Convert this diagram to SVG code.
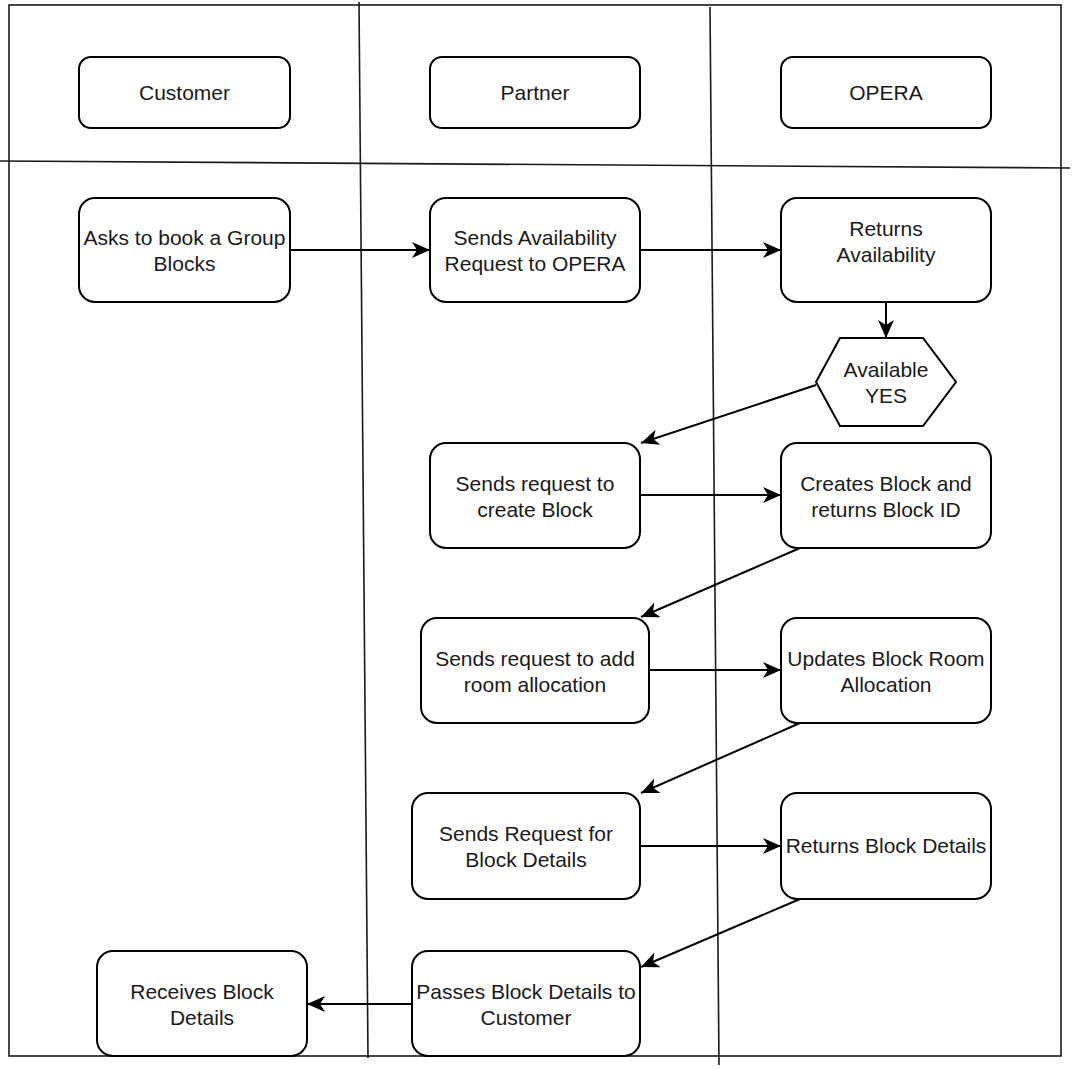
<svg xmlns="http://www.w3.org/2000/svg" width="1073" height="1069" viewBox="0 0 1073 1069">
<style>
.frame{fill:none;stroke:#1a1a1a;stroke-width:1.6}
.node{fill:#fff;stroke:#000;stroke-width:2}
.lbl{font-family:"Liberation Sans",Arial,sans-serif;font-size:21px;fill:#1a1a1a;text-anchor:middle}
.edge{fill:none;stroke:#000;stroke-width:2}
</style>
<defs>
<marker id="arr" markerUnits="userSpaceOnUse" markerWidth="20" markerHeight="18" refX="18" refY="8" orient="auto" viewBox="0 0 20 18">
<path d="M0,0 L18,8 L0,16 L5,8 Z" fill="#000"/>
</marker>
</defs>
<rect width="1073" height="1069" fill="#fff"/>
<g id="frame">
<rect class="frame" x="9" y="5" width="1052" height="1051"/>
<line class="frame" x1="0" y1="161" x2="1070" y2="168"/>
<line class="frame" x1="359" y1="2" x2="368" y2="1058"/>
<line class="frame" x1="710" y1="7" x2="719" y2="1065"/>
</g>
<g id="connectors">
<line class="edge" x1="290" y1="250" x2="430" y2="250" marker-end="url(#arr)"/>
<line class="edge" x1="640" y1="250" x2="781" y2="250" marker-end="url(#arr)"/>
<line class="edge" x1="886" y1="302" x2="886" y2="338" marker-end="url(#arr)"/>
<line class="edge" x1="816" y1="385" x2="641" y2="443" marker-end="url(#arr)"/>
<line class="edge" x1="640" y1="495" x2="781" y2="495" marker-end="url(#arr)"/>
<line class="edge" x1="800" y1="548" x2="641" y2="617" marker-end="url(#arr)"/>
<line class="edge" x1="649" y1="670" x2="781" y2="670" marker-end="url(#arr)"/>
<line class="edge" x1="800" y1="723" x2="641" y2="793" marker-end="url(#arr)"/>
<line class="edge" x1="640" y1="846" x2="781" y2="846" marker-end="url(#arr)"/>
<line class="edge" x1="800" y1="899" x2="641" y2="967" marker-end="url(#arr)"/>
<line class="edge" x1="412" y1="1004" x2="307" y2="1004" marker-end="url(#arr)"/>
</g>
<g id="customer">
<rect class="node" x="79" y="57" width="211" height="71" rx="12"/>
<text class="lbl" x="184.5" y="99.5">Customer</text>
</g>
<g id="partner">
<rect class="node" x="430" y="57" width="210" height="71" rx="12"/>
<text class="lbl" x="535" y="99.5">Partner</text>
</g>
<g id="opera">
<rect class="node" x="781" y="57" width="210" height="71" rx="12"/>
<text class="lbl" x="886" y="99.5">OPERA</text>
</g>
<g id="asks">
<rect class="node" x="79" y="198" width="211" height="104" rx="16"/>
<text class="lbl" x="184.5" y="245">Asks to book a Group</text>
<text class="lbl" x="184.5" y="271">Blocks</text>
</g>
<g id="sendsAvail">
<rect class="node" x="430" y="198" width="210" height="104" rx="16"/>
<text class="lbl" x="535" y="245">Sends Availability</text>
<text class="lbl" x="535" y="271">Request to OPERA</text>
</g>
<g id="returnsAvail">
<rect class="node" x="781" y="198" width="210" height="104" rx="16"/>
<text class="lbl" x="886" y="236">Returns</text>
<text class="lbl" x="886" y="262">Availability</text>
</g>
<g id="available">
<polygon class="node" points="816,382 840,338 923,338 956,382 923,426 840,426"/>
<text class="lbl" x="886" y="377">Available</text>
<text class="lbl" x="886" y="403">YES</text>
</g>
<g id="sendsCreate">
<rect class="node" x="430" y="443" width="210" height="105" rx="16"/>
<text class="lbl" x="535" y="491">Sends request to</text>
<text class="lbl" x="535" y="517">create Block</text>
</g>
<g id="createsBlock">
<rect class="node" x="781" y="443" width="210" height="105" rx="16"/>
<text class="lbl" x="886" y="491">Creates Block and</text>
<text class="lbl" x="886" y="517">returns Block ID</text>
</g>
<g id="sendsAdd">
<rect class="node" x="421" y="618" width="228" height="105" rx="16"/>
<text class="lbl" x="535" y="666">Sends request to add</text>
<text class="lbl" x="535" y="692">room allocation</text>
</g>
<g id="updates">
<rect class="node" x="781" y="618" width="210" height="105" rx="16"/>
<text class="lbl" x="886" y="666">Updates Block Room</text>
<text class="lbl" x="886" y="692">Allocation</text>
</g>
<g id="sendsDetails">
<rect class="node" x="412" y="793" width="228" height="106" rx="16"/>
<text class="lbl" x="526" y="841">Sends Request for</text>
<text class="lbl" x="526" y="867">Block Details</text>
</g>
<g id="returnsDetails">
<rect class="node" x="781" y="793" width="210" height="106" rx="16"/>
<text class="lbl" x="886" y="853">Returns Block Details</text>
</g>
<g id="receives">
<rect class="node" x="97" y="951" width="210" height="105" rx="16"/>
<text class="lbl" x="202" y="999">Receives Block</text>
<text class="lbl" x="202" y="1025">Details</text>
</g>
<g id="passes">
<rect class="node" x="412" y="951" width="228" height="105" rx="16"/>
<text class="lbl" x="526" y="999">Passes Block Details to</text>
<text class="lbl" x="526" y="1025">Customer</text>
</g>
</svg>
